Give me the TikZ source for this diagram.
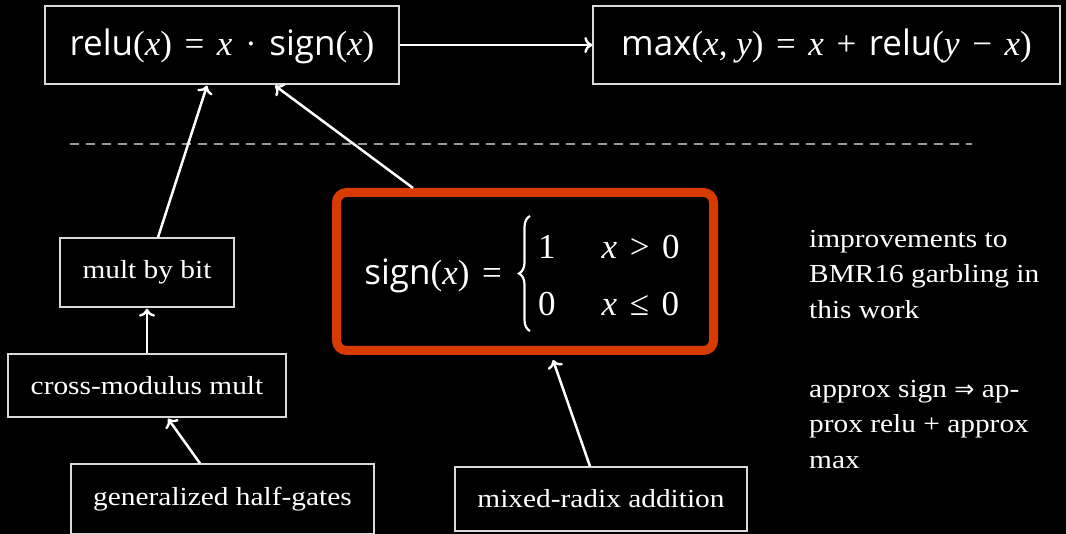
\documentclass[tikz,border=0pt]{standalone}
\usepackage{fontspec}
\setmainfont{Liberation Serif}[FakeStretch=1.13]
\newfontfamily\opfont{Open Sans}
\newfontfamily\mf{Liberation Serif}
\newfontfamily\symf{DejaVu Sans}
\newcommand\vx{\textit{x}}
\newcommand\vy{\textit{y}}
\newcommand\rel[1]{\hspace{0.36em}#1\hspace{0.36em}}
\usetikzlibrary{arrows.meta,decorations.pathreplacing}
\definecolor{signred}{RGB}{216,59,1}
\tikzset{
  box/.style={draw=white!85!black, line width=1.3pt, text=white, inner sep=0pt, font=\fontsize{26}{30}\selectfont},
  mathbox/.style={box, font=\mf\fontsize{35}{40}\selectfont},
  mathtext/.style={text=white, inner sep=0pt, font=\mf\fontsize{35}{40}\selectfont},
  arr/.style={draw=white, line width=2.5pt, -{To[length=8pt,width=16pt,line width=2.4pt]}},
  sepline/.style={draw=white!60!black, line width=1.4pt, dash pattern=on 9pt off 7pt},
  bracestyle/.style={draw=white, line width=2.2pt, decorate, decoration={brace, amplitude=11pt, raise=0pt}},
  note/.style={text=white, align=left, anchor=north west, inner sep=0pt, font=\fontsize{26}{35.5}\selectfont}
}
\begin{document}
\begin{tikzpicture}[x=1pt,y=-1pt]
\fill[black] (0,0) rectangle (1066,534);
\useasboundingbox (0,0) rectangle (1066,534);
\node[mathbox, minimum width=354pt, minimum height=78pt] (relu) at (222,45) {\raisebox{-11pt}[0pt][0pt]{{\opfont relu}(\vx)\rel{=}\vx\rel{·}{\opfont sign}(\vx)}};
\node[mathbox, minimum width=467pt, minimum height=78pt] (max) at (826.5,45) {\raisebox{-11pt}[0pt][0pt]{{\opfont max}(\vx, \vy)\rel{=}\vx\rel{+}{\opfont relu}(\vy\rel{−}\vx)}};
\coordinate (dl) at (70,144);
\coordinate (dr) at (972,144);
\draw[sepline] (dl) -- (dr);
\node[draw=signred, line width=9pt, rounded corners=10pt, minimum width=377pt, minimum height=158pt] (sign) at (525,271.5) {};
\node[mathtext, anchor=east] (signlhs) at (502,276) {{\opfont sign}(\vx)\rel{=}};
\node[mathtext, anchor=west, align=left] (case1) at (538,247) {1\hspace{46pt}\vx\rel{>}0};
\node[mathtext, anchor=west, align=left] (case2) at (538,304) {0\hspace{46pt}\vx\rel{≤}0};
\coordinate (bt) at (530,216);
\coordinate (bb) at (530,331);
\draw[bracestyle] (bb) -- (bt);
\node[box, minimum width=174pt, minimum height=69pt] (mult) at (147,272.5) {mult by bit};
\node[box, minimum width=278pt, minimum height=63pt] (cross) at (147,385.5) {cross-modulus mult};
\node[box, minimum width=303pt, minimum height=70pt] (gen) at (222.5,499) {generalized half-gates};
\node[box, minimum width=292pt, minimum height=64pt] (mixed) at (601,499) {mixed-radix addition};
\node[note] (n1) at (809,230) {improvements to\\BMR16 garbling in\\this work};
\node[note] (n2) at (809,380) {approx sign {\symf\fontsize{24}{35}\selectfont ⇒} ap-\\prox relu + approx\\max};
\draw[arr] (relu.east) -- (max.west);
\draw[arr] ([xshift=11pt]mult.north) -- ([xshift=-15pt,yshift=-1pt]relu.south);
\draw[arr] ([xshift=-112pt]sign.north) -- ([xshift=53pt,yshift=-1pt]relu.south);
\draw[arr] (cross.north) -- ([yshift=-1pt]mult.south);
\draw[arr] ([xshift=-22.5pt]gen.north) -- ([xshift=21pt,yshift=-1pt]cross.south);
\draw[arr] ([xshift=-11pt]mixed.north) -- ([xshift=28pt,yshift=-5pt]sign.south);
\end{tikzpicture}
\end{document}
